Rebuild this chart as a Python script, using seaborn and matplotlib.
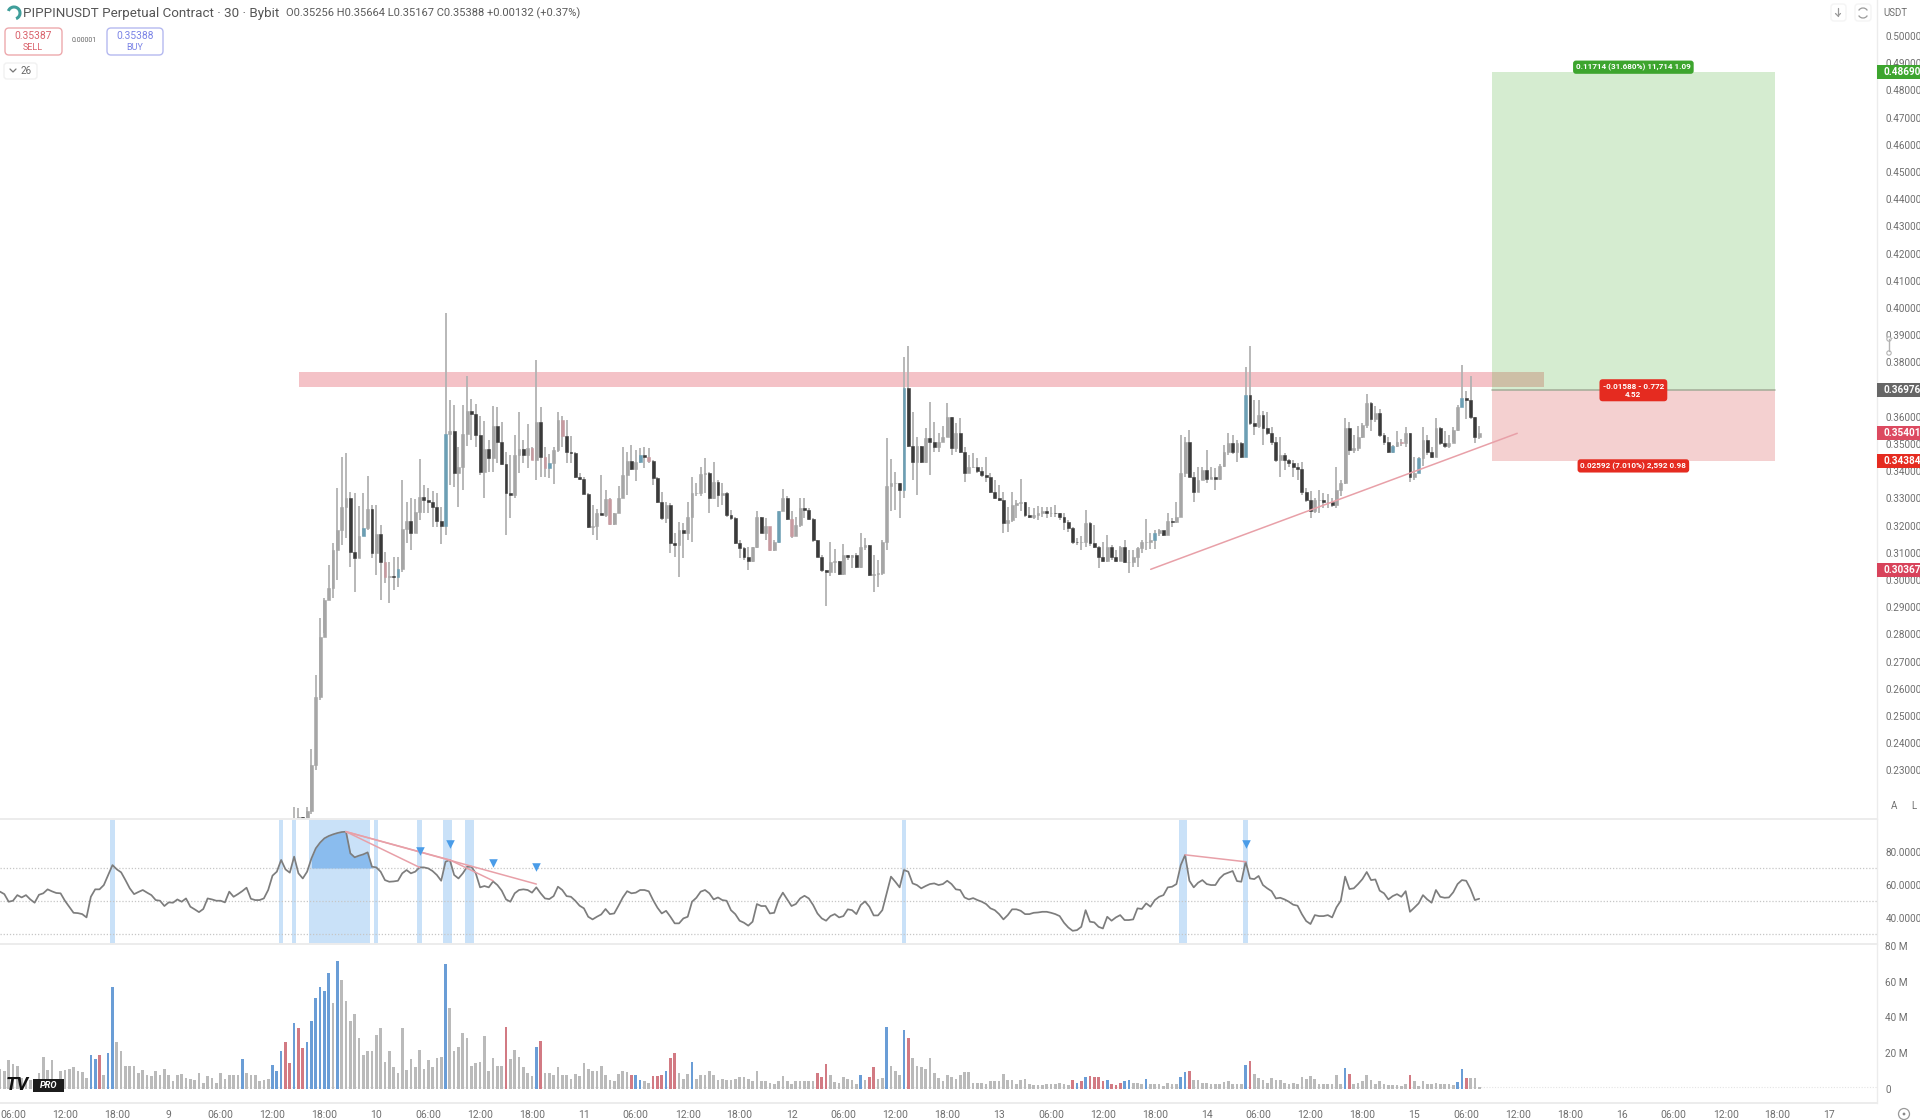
import numpy as np
import pandas as pd
import matplotlib
matplotlib.use("Agg")
import matplotlib.pyplot as plt
from matplotlib.patches import Rectangle, FancyBboxPatch, Circle, Arc
from matplotlib.transforms import blended_transform_factory
import seaborn as sns

# bars are counted in half hours from 06:00 on the 8th
first_bar = -3
first_candle = 65

volume = [
    11, 10, 16, 14, 13, 6, 5, 5, 4, 9, 18, 10.5,
    16, 5, 10, 10.5, 11, 12, 10, 9.5, 6, 19, 16.5, 19,
    8, 20, 57, 26, 21, 13, 13, 13, 9, 10.5, 7.5, 7,
    10, 8, 11, 7.5, 4.5, 8, 8.5, 6, 5.5, 5, 9, 3.5,
    7, 6, 3.5, 9, 5.5, 7.5, 8, 8, 16.5, 9, 8, 8,
    4.5, 5, 5.5, 13.5, 10, 21, 26, 14.5, 37, 34, 23, 26,
    38, 51, 57, 55, 65, 48, 71.5, 61, 49, 38, 42, 28.5,
    19, 21, 21, 30, 34, 15, 21, 12, 9, 34, 10.5, 16.5,
    12, 22, 11, 16, 12, 17.5, 18, 70, 45, 21, 23.5, 31,
    28.5, 13, 14.5, 15, 29.5, 10, 17.5, 13, 13, 34.5, 16.5, 21.5,
    18, 12, 9, 7, 23.5, 27, 9, 9, 8, 12, 7.5, 7.5,
    5.5, 8.5, 7, 14.5, 11, 10, 10, 13, 7.5, 5, 4.5, 8.5,
    10, 9.5, 8, 7.5, 5, 4.5, 3.5, 7, 7, 8, 10, 17.5,
    20, 9, 5.5, 8.5, 15, 5.5, 8, 8, 10, 8, 5, 5.5,
    5, 5, 5.5, 6.5, 6.5, 5.5, 4.5, 10, 4.5, 4.5, 3.5, 2.5,
    4.5, 7, 4.5, 3, 4.5, 4.5, 4.5, 4.5, 4.5, 9, 6.5, 14,
    7.5, 4, 3.5, 6.5, 5.5, 5, 2.5, 7.5, 5, 6.5, 12.5, 5.5,
    6, 34.5, 13, 10, 8, 33, 28.5, 17, 13, 12, 11, 17.5,
    9, 6, 4.5, 7.5, 6.5, 5.5, 7.5, 9.5, 9.5, 3.5, 3.5, 3.5,
    2.5, 4.5, 4.5, 4.5, 8.5, 5, 5, 3, 5, 5.5, 2.5, 2,
    2, 2.2, 2.5, 2.5, 3, 3.5, 2.5, 2.2, 5, 3.5, 4.5, 6.5,
    7, 6.5, 6.5, 4.5, 5, 3, 2, 3.5, 4.5, 5, 3.5, 3.5,
    2.5, 5.5, 2.5, 2.5, 2.5, 1.5, 3.5, 2.5, 2.5, 6.5, 9.5, 10,
    5, 5, 3.5, 3.5, 3, 3, 2.5, 4, 4.5, 3, 3, 3,
    13.5, 15.5, 8.5, 6, 5, 3.5, 6, 5, 5, 3.5, 2.5, 3.5,
    2.5, 6.5, 5.5, 7, 5.5, 3, 2.5, 2.5, 2.5, 7.5, 3, 11.5,
    8.5, 3, 3.5, 4.5, 7.5, 5, 2.5, 4.5, 3, 2, 2, 2,
    1.5, 2.5, 7.5, 4.5, 1.5, 4.5, 3, 2.5, 3.5, 2.5, 3, 2.5,
    2, 4, 11, 6, 6, 6, 1,
]
blue_bars = [18, 19, 22, 23, 53, 60, 61, 62, 65, 68, 69, 70, 71, 72, 73, 75, 100, 121, 144, 145,
             151, 157, 196, 202, 206, 246, 248, 253, 257, 258, 262, 270, 271, 285, 308, 334, 335]
red_bars = [20, 63, 64, 66, 67, 114, 122, 143, 148, 149, 150, 152, 153, 186, 187, 188, 198, 199, 207,
            245, 247, 249, 250, 251, 252, 254, 255, 256, 272, 286, 309, 323, 336]
blue_candles = [81, 89, 100, 124, 145, 177, 206, 264, 285, 319, 325, 335]
red_candles = [86, 120, 123, 127, 138, 147, 175, 180, 321]

rsi = [
    55.7, 54.2, 49.6, 50.2, 53.6, 52.2, 53.6, 51, 49, 53.8, 54.7, 57.1,
    55.9, 54.9, 54.7, 50.2, 46.6, 42.9, 42.7, 42.1, 40.1, 52.6, 57.1, 57.1,
    59.7, 65.8, 71.8, 69.2, 67.4, 62.7, 57.7, 54.2, 55.5, 56.7, 55.1, 53.6,
    50.6, 50.2, 47, 49.2, 49, 51, 49.6, 51.6, 46.6, 45, 43.3, 45.2,
    51.6, 51, 50.2, 50.2, 49.2, 55.7, 52.6, 54.2, 56, 58.1, 51.4, 50.6,
    50.6, 51.6, 56.7, 65.4, 67.8, 74.9, 69.2, 67.2, 76.9, 66.8, 63.7, 67.8,
    75.8, 81.9, 85.4, 88, 89.4, 90.4, 91.2, 91.8, 92, 78.9, 76.5, 77.5,
    78.3, 79.5, 70.8, 70.4, 67.8, 62.7, 61.7, 61.9, 62.3, 66.8, 68.8, 66.8,
    67.8, 70.4, 70.4, 69.8, 68.2, 65.8, 62.3, 73.8, 74.9, 65.8, 63.7, 66.8,
    70.8, 70.8, 66.8, 58.3, 59.1, 58.3, 61.9, 59.7, 56.3, 51, 49.6, 54.7,
    56.7, 57.1, 56.7, 55.1, 58.3, 54.7, 51.6, 51.2, 53, 58.7, 56.7, 53,
    52.6, 50.2, 47.2, 45.6, 40.5, 38.9, 40.5, 41.9, 45.2, 42.1, 42.5, 47.2,
    52.2, 56, 54.7, 55.1, 56.7,
    56.7, 55.9, 50.6, 46, 42.5, 44.1, 40.5,
    36.5, 36.5, 39.5, 40.5, 49.6, 52, 55.7, 56.7, 54.7, 51, 52.2, 50.6,
    50.2, 44.5, 42.1, 38.1, 36.9, 35.1, 37.5, 48.2, 47, 47, 42.5, 42.9,
    50.6, 55.1, 51, 47, 48.2, 51.6, 53.2, 51.6, 47.6, 42.5, 39.5, 38.1,
    40.9, 42.1, 40.1, 40.9, 45, 44.5, 42.1, 47.6, 49.8, 46.6, 41.3, 41.3,
    44.5, 54.7, 64.8, 61.7, 58.3, 68.8, 67.8, 60.7, 59.7, 57.7, 59.1, 60.3,
    60.7, 59.7, 60.3, 62.3, 60.3, 57.1, 56.7, 52.2, 51, 51.8, 50.6, 49.6,
    48.2, 45.6, 44.5, 42.1, 38.9, 41.5, 45, 45, 44.1, 42.1, 42.1, 42.9,
    43.1, 43.5, 43.5, 42.9, 42.1, 40.9, 36.9, 34, 32, 32.4, 34.4, 44.5,
    37.5, 37.1, 34.4, 33.4, 40.5, 38.1, 40.1, 41.5, 38.5, 38.5, 38.9, 45.6,
    45.2, 48.6, 46.6, 50.6, 52.6, 53.6, 58.3, 58.7, 60.3, 71.8, 77.9, 62.3,
    58.3, 61.1, 62.7, 60.3, 59.7, 59.7, 63.7, 66.2, 67.2, 68.2, 62.1, 61.7,
    73.8, 63.7, 63.3, 65.2, 59.7, 57.7, 56, 51.6,
    52, 51, 49.6, 47.8, 47.2, 42.1, 37.9, 36.1, 41.5, 40.9, 40.9, 41.5,
    40.1, 46.2, 50.2, 64.8, 57.3, 57.7, 60.3, 63.3, 67.6, 62.7, 63.1, 56.3,
    54.7, 51, 53, 54.2, 52.6, 56, 43.5, 46, 48.6, 53.6, 51, 49,
    56.7, 52.6, 52, 52.2, 55.3, 60.3, 62.7, 62.3, 57.3, 50.6, 51.4,
]

close = [
    .2125, .2130, .2100, .2150, .2320, .2570, .2790,
    .2927, .2970, .3111, .3184, .3267, .3300, .3102, .3080, .3163, .3190,
    .3260, .3098, .3169, .3067, .3010, .3015, .3012, .3042, .3186, .3216,
    .3172, .3251, .3304, .3294, .3287, .3270, .3218, .3199, .3535, .3549,
    .3392, .3417, .3535, .3621, .3610, .3533, .3398, .3481, .3447, .3566,
    .3508, .3426, .3321, .3312, .3459, .3480, .3459, .3486, .3443, .3582,
    .3453, .3410, .3431, .3478, .3590, .3529, .3472, .3468, .3380, .3370,
    .3318, .3196, .3198, .3245, .3239, .3297, .3206, .3245, .3300, .3386,
    .3439, .3407, .3435, .3459, .3451, .3439, .3376, .3288, .3227, .3276,
    .3137, .3129, .3184,
    .3172, .3233, .3319, .3319, .3390, .3392, .3300, .3362, .3313, .3319,
    .3239, .3227, .3135, .3117, .3084, .3071, .3120, .3233, .3172, .3199,
    .3111, .3141, .3255, .3300, .3223, .3160, .3203, .3264, .3258, .3225,
    .3147, .3086, .3035, .3031, .3068, .3071, .3022, .3092, .3086, .3092,
    .3047, .3123, .3129, .3019, .3022, .3025, .3138, .3346, .3356, .3356,
    .3331, .3707, .3493, .3432, .3493, .3432, .3521, .3509, .3490, .3509,
    .3527, .3601, .3484, .3539, .3472, .3395, .3417, .3417, .3402, .3386,
    .3380, .3325, .3300, .3294, .3209, .3221, .3276, .3282, .3285, .3239,
    .3233, .3239, .3245, .3252, .3248, .3248, .3245, .3233, .3215, .3190,
    .3141, .3139,
    .3141, .3209, .3135, .3123, .3084, .3071, .3123, .3086, .3071, .3120,
    .3068, .3068, .3086, .3117, .3141, .3141, .3147, .3172, .3182, .3166,
    .3218, .3215, .3233, .3395, .3509, .3380, .3325, .3366, .3405, .3370,
    .3380, .3370, .3419, .3472, .3503, .3472, .3503, .3451, .3680, .3576,
    .3566, .3607, .3558, .3539, .3509, .3441, .3460, .3441, .3429, .3417,
    .3407, .3325, .3294, .3252, .3294, .3294, .3288, .3288, .3276, .3331,
    .3358, .3558, .3478, .3484, .3527, .3570, .3652, .3591, .3613, .3533,
    .3509, .3472, .3493, .3509, .3503, .3539, .3380, .3392, .3448, .3515,
    .3472, .3454, .3558, .3503, .3493, .3505, .3552, .3637, .3668, .3662,
    .3601, .35256, .35388,
]
high = [
    .2165, .2160, .2130, .2165, .2380, .2650, .2860,
    .2933, .3055, .3135, .3337, .3451, .3468, .3325, .3321, .3272, .3321,
    .3383, .3276, .3276, .3202, .3104, .3067, .3083, .3086, .3367, .3285,
    .3303, .3296, .3445, .3349, .3337, .3328, .3319, .3270, .3980, .3662,
    .3643, .3490, .3643, .3750, .3664, .3647, .3603, .3584, .3515, .3639,
    .3637, .3582, .3472, .3459, .3533, .3619, .3515, .3572, .3490, .3809,
    .3635, .3490, .3465, .3490, .3619, .3603, .3588, .3529, .3472, .3392,
    .3377, .3321, .3276, .3260, .3386, .3331, .3300, .3245, .3345, .3490,
    .3472, .3496, .3478, .3484, .3488, .3484, .3443, .3380, .3325, .3288,
    .3282, .3172, .3214,
    .3209, .3288, .3380, .3356, .3417, .3448, .3398, .3435, .3368, .3356,
    .3325, .3258, .3233, .3147, .3123, .3123, .3123, .3252, .3233, .3227,
    .3196, .3147, .3255, .3334, .3307, .3252, .3233, .3300, .3300, .3264,
    .3227, .3147, .3092, .3037, .3138, .3113, .3071, .3133, .3092, .3092,
    .3098, .3174, .3153, .3129, .3092, .3074, .3147, .3521, .3444, .3398,
    .3356, .3821, .3860, .3619, .3527, .3493, .3558, .3656, .3582, .3539,
    .3566, .3650, .3601, .3576, .3594, .3490, .3460, .3466, .3448, .3417,
    .3451, .3392, .3368, .3350, .3325, .3270, .3325, .3294, .3370, .3288,
    .3270, .3264, .3272, .3270, .3270, .3268, .3276, .3248, .3245, .3221,
    .3196, .3153,
    .3160, .3258, .3215, .3203, .3125, .3141, .3166, .3129, .3111, .3125,
    .3147, .3111, .3111, .3123, .3147, .3223, .3172, .3182, .3187, .3172,
    .3248, .3227, .3285, .3533, .3527, .3552, .3398, .3417, .3417, .3478,
    .3417, .3411, .3427, .3497, .3542, .3533, .3515, .3509, .3782, .3860,
    .3662, .3662, .3623, .3619, .3564, .3527, .3527, .3466, .3444, .3441,
    .3429, .3435, .3337, .3329, .3300, .3331, .3319, .3316, .3300, .3414,
    .3368, .3594, .3582, .3533, .3566, .3578, .3684, .3656, .3640, .3628,
    .3539, .3525, .3497, .3546, .3517, .3562, .3542, .3454, .3454, .3564,
    .3533, .3490, .3594, .3564, .3546, .3533, .3564, .3644, .3791, .3696,
    .3750, .3601, .35664,
]
low = [
    .2100, .2100, .2060, .2090, .2140, .2300, .2560,
    .2804, .2927, .2933, .3000, .3129, .3153, .3049, .2957, .3080, .3162,
    .3184, .3080, .3018, .2927, .2988, .2914, .2963, .2976, .3031, .3135,
    .3110, .3172, .3221, .3245, .3245, .3196, .3196, .3132, .3165, .3349,
    .3343, .3267, .3331, .3492, .3515, .3490, .3386, .3300, .3398, .3398,
    .3429, .3423, .3165, .3227, .3300, .3392, .3429, .3410, .3441, .3367,
    .3380, .3380, .3374, .3353, .3472, .3490, .3431, .3429, .3374, .3367,
    .3316, .3190, .3165, .3147, .3239, .3233, .3202, .3202, .3245, .3300,
    .3312, .3404, .3365, .3429, .3410, .3429, .3349, .3282, .3220, .3208,
    .3098, .3086, .3012,
    .3080, .3147, .3138, .3307, .3307, .3319, .3245, .3298, .3270, .3276,
    .3233, .3221, .3133, .3080, .3074, .3037, .3068, .3117, .3172, .3147,
    .3105, .3105, .3135, .3252, .3221, .3153, .3160, .3196, .3227, .3221,
    .3141, .3084, .3031, .2905, .3013, .3025, .3019, .3019, .3074, .3043,
    .3043, .3043, .3111, .3015, .2957, .2976, .3019, .3111, .3252, .3258,
    .3227, .3300, .3490, .3368, .3313, .3429, .3429, .3386, .3472, .3472,
    .3509, .3527, .3460, .3472, .3466, .3362, .3392, .3411, .3392, .3380,
    .3362, .3321, .3297, .3292, .3172, .3178, .3215, .3227, .3252, .3233,
    .3227, .3223, .3221, .3231, .3227, .3233, .3231, .3221, .3182, .3178,
    .3133, .3129,
    .3111, .3123, .3125, .3117, .3043, .3068, .3068, .3074, .3068, .3071,
    .3064, .3027, .3047, .3047, .3101, .3111, .3113, .3113, .3160, .3160,
    .3172, .3196, .3211, .3233, .3380, .3378, .3288, .3325, .3368, .3356,
    .3370, .3331, .3368, .3417, .3460, .3463, .3432, .3448, .3451, .3570,
    .3533, .3558, .3497, .3533, .3497, .3435, .3380, .3405, .3417, .3380,
    .3368, .3313, .3288, .3227, .3245, .3248, .3264, .3264, .3270, .3264,
    .3307, .3353, .3460, .3466, .3476, .3521, .3558, .3546, .3582, .3527,
    .3497, .3466, .3466, .3490, .3493, .3490, .3362, .3366, .3402, .3419,
    .3460, .3448, .3454, .3497, .3484, .3484, .3509, .3546, .3635, .3591,
    .3591, .3505, .35167,
]

# RSI pane highlights and divergences
highlight_from = [23, 62, 65, 69, 84, 94, 100, 105, 206, 270, 285]
highlight_to = [23, 62, 65, 82, 84, 94, 101, 106, 206, 271, 285]
div_x0 = [77, 77, 77, 101, 271]
div_y0 = [92, 92, 92, 74.9, 78]
div_x1 = [94, 121, 101, 111, 285]
div_y1 = [70.4, 60.3, 74.9, 62.3, 73.8]
signal_x = [94.2, 101, 111, 121, 285]
signal_y = [80.5, 84.5, 72.8, 70.4, 84.3]

# drawings on the price pane
zone_from, zone_to, zone_low, zone_high = 66.2, 354, 0.37107, 0.37658
trend_x = [263.05, 347.8]
trend_y = [0.30393, 0.35393]
pos_from, pos_to = 342, 407.3
pos_target, pos_entry, pos_stop = 0.4869, 0.36976, 0.34384

price_ticks = [round(0.23 + 0.01 * k, 2) for k in range(28)]
rsi_ticks = [40, 60, 80]
rsi_bands = [30, 50, 70]
vol_ticks = [0, 20, 40, 60, 80]
vol_tick_labels = ["0", "20 M", "40 M", "60 M", "80 M"]
time_ticks = [0, 12, 24, 36, 48, 60, 72, 84, 96, 108, 120, 132, 144, 156, 168, 180, 192, 204, 216,
              228, 240, 252, 264, 276, 288, 300, 312, 324, 336, 348, 360, 372, 384, 396, 408, 420]
time_labels = ["06:00", "12:00", "18:00", "9", "06:00", "12:00", "18:00", "10", "06:00", "12:00", "18:00", "11",
               "06:00", "12:00", "18:00", "12", "06:00", "12:00", "18:00", "13", "06:00", "12:00", "18:00", "14",
               "06:00", "12:00", "18:00", "15", "06:00", "12:00", "18:00", "16", "06:00", "12:00", "18:00", "17"]
tag_prices = [0.4869, 0.36976, 0.35401, 0.34384, 0.30367]
tag_texts = ["0.48690", "0.36976", "0.35401", "0.34384", "0.30367"]
tag_colors = ["#3da52e", "#666666", "#dc4a60", "#e52b20", "#d8435b"]

bars = pd.DataFrame({"bar": np.arange(first_bar, first_bar + len(volume)), "volume": volume, "rsi": rsi})
bars["kind"] = "plain"
bars.loc[bars["bar"].isin(blue_bars), "kind"] = "blue"
bars.loc[bars["bar"].isin(red_bars), "kind"] = "red"

candles = pd.DataFrame({"bar": np.arange(first_candle, first_candle + len(close)),
                        "close": close, "high": high, "low": low})
candles["open"] = candles["close"].shift(1).fillna(0.2100)
candles["kind"] = np.where(candles["close"] >= candles["open"], "up", "down")
candles.loc[candles["bar"].isin(blue_candles), "kind"] = "blue"
candles.loc[candles["bar"].isin(red_candles), "kind"] = "red"

sns.set_theme(style="white")
plt.rcParams["font.family"] = ["Roboto", "DejaVu Sans"]
TXT = "#6f6f6f"
SEP = "#ececec"

W, H = 1920, 1120
fig = plt.figure(figsize=(W / 100, H / 100), dpi=100, facecolor="white")


def pane(top, bottom):
    return fig.add_axes([0, 1 - bottom / H, 1877 / W, (bottom - top) / H])


ax_price = pane(0, 819)
ax_rsi = pane(819, 944)
ax_vol = pane(944, 1103)
x_limits = (-3.006, 430.98)

# price pane
ax_price.add_patch(Rectangle((zone_from, zone_low), zone_to - zone_from, zone_high - zone_low,
                             color="#f4c2c7", lw=0, zorder=1))
ax_price.add_patch(Rectangle((pos_from, pos_entry), pos_to - pos_from, pos_target - pos_entry,
                             color="#5bb746", alpha=0.25, lw=0, zorder=2))
ax_price.add_patch(Rectangle((pos_from, pos_stop), pos_to - pos_from, pos_entry - pos_stop,
                             color="#d74444", alpha=0.25, lw=0, zorder=2))
ax_price.plot([pos_from, pos_to], [pos_entry, pos_entry], color="#a3ab97", lw=1.1, zorder=2.5)

body_colors = {"up": "#a6a6a6", "down": "#3a3a3a", "blue": "#6c9fb4", "red": "#c79aa0"}
ax_price.vlines(candles["bar"], candles["low"], candles["high"], colors="#b2b2b2", lw=1.3, zorder=3)
ax_price.bar(candles["bar"], (candles["close"] - candles["open"]).abs(),
             bottom=candles[["open", "close"]].min(axis=1), width=0.66,
             color=candles["kind"].map(body_colors), edgecolor=candles["kind"].map(body_colors),
             lw=0.4, zorder=3.2)
sns.lineplot(x=trend_x, y=trend_y, color="#e8a0a8", lw=1.1, ax=ax_price, zorder=4)

ax_price.set_ylim(0.21213, 0.51324)
ax_price.yaxis.tick_right()
ax_price.set_yticks(price_ticks, [f"{p:.5f}" for p in price_ticks])

# tool labels
pos_mid = (pos_from + pos_to) / 2
ax_price.annotate("0.11714 (31.680%) 11,714 1.09", (pos_mid, pos_target), xytext=(0, 0.5),
                  textcoords="offset points", ha="center", va="bottom", color="white", fontsize=5.9,
                  fontweight="bold", zorder=6,
                  bbox=dict(boxstyle="round,pad=0.35", fc="#3da52e", ec="none"))
ax_price.text(pos_mid, pos_entry, "-0.01588 - 0.772\n4.52", ha="center", va="center", color="white",
              fontsize=5.9, fontweight="bold", linespacing=1.25, zorder=6,
              bbox=dict(boxstyle="round,pad=0.4", fc="#e52b20", ec="none"))
ax_price.annotate("0.02592 (7.010%) 2,592 0.98", (pos_mid, pos_stop), xytext=(0, -1),
                  textcoords="offset points", ha="center", va="top", color="white", fontsize=5.9,
                  fontweight="bold", zorder=6,
                  bbox=dict(boxstyle="round,pad=0.35", fc="#e52b20", ec="none"))

# price tags on the axis
tag_tf = blended_transform_factory(ax_price.transAxes, ax_price.transData)
tag_h = 14 / 2720
for p, t, c in zip(tag_prices, tag_texts, tag_colors):
    ax_price.add_patch(Rectangle((1.0, p - tag_h / 2), 43 / 1877, tag_h, transform=tag_tf, color=c,
                                 lw=0, clip_on=False, zorder=8))
    ax_price.text(1 + 6 / 1877, p, t, transform=tag_tf, color="white", fontsize=7.2, fontweight="bold",
                  va="center", ha="left", clip_on=False, zorder=9)

# RSI pane
for s, e in zip(highlight_from, highlight_to):
    ax_rsi.axvspan(s - 0.5, e + 0.5, color="#c9e1f8", lw=0, zorder=0.5)
for b in rsi_bands:
    ax_rsi.axhline(b, color="#c6c6c6", lw=0.9, ls=(0, (1, 1.5)), zorder=1)
fill_bars = bars[(bars["bar"] >= 69) & (bars["bar"] <= 83)]
ax_rsi.fill_between(fill_bars["bar"], 70, fill_bars["rsi"], where=fill_bars["rsi"] > 70, interpolate=True,
                    color="#8abcee", lw=0, zorder=1.5)
sns.lineplot(data=bars, x="bar", y="rsi", color="#7d7d7d", lw=1.25, ax=ax_rsi, zorder=3, errorbar=None)
for x0, y0, x1, y1 in zip(div_x0, div_y0, div_x1, div_y1):
    ax_rsi.plot([x0, x1], [y0, y1], color="#e8a0a8", lw=1.1, zorder=3.5)
sns.scatterplot(x=signal_x, y=signal_y, marker="v", s=38, color="#4a9ce8", lw=0, ax=ax_rsi, zorder=4)
ax_rsi.set_ylim(24, 99.7)
ax_rsi.yaxis.tick_right()
ax_rsi.set_yticks(rsi_ticks, [f"{v:.4f}" for v in rsi_ticks])

# volume pane
ax_vol.axhline(1.3, color="#e4e4e4", lw=0.8, ls=(0, (1, 1.5)), zorder=0)
sns.barplot(data=bars, x="bar", y="volume", hue="kind", dodge=False, native_scale=True, width=0.62,
            palette={"plain": "#bababa", "blue": "#6a9dd6", "red": "#d27a83"}, saturation=1,
            errorbar=None, legend=False, linewidth=0, ax=ax_vol, zorder=2)
ax_vol.set_ylim(-7.9, 81)
ax_vol.yaxis.tick_right()
ax_vol.set_yticks(vol_ticks, vol_tick_labels)

for ax in (ax_price, ax_rsi, ax_vol):
    ax.set_xlim(*x_limits)
    ax.set_xlabel("")
    ax.set_ylabel("")
    ax.grid(False)
    ax.tick_params(axis="y", length=0, pad=6, labelsize=7.2, labelcolor=TXT)
    for side in ("left", "top", "bottom"):
        ax.spines[side].set_visible(False)
    ax.spines["right"].set_color(SEP)
    ax.spines["right"].set_linewidth(1)
for ax in (ax_rsi, ax_vol):
    ax.spines["top"].set_visible(True)
    ax.spines["top"].set_color(SEP)
    ax.spines["top"].set_linewidth(1.4)
ax_vol.spines["bottom"].set_visible(True)
ax_vol.spines["bottom"].set_color(SEP)
ax_vol.spines["bottom"].set_linewidth(1.4)
ax_price.set_xticks([])
ax_rsi.set_xticks([])
ax_vol.set_xticks(time_ticks, time_labels)
ax_vol.tick_params(axis="x", length=0, pad=5, labelsize=7.5, labelcolor=TXT)

# chart chrome, placed in screen pixels
ov = fig.add_axes([0, 0, 1, 1], facecolor="none", zorder=20)
ov.set_xlim(0, W)
ov.set_ylim(H, 0)
ov.axis("off")

ov.add_patch(Arc((14, 13), 12, 12, theta1=200, theta2=70, color="#3f9e9a", lw=2.2))
ov.text(23, 13, "PIPPINUSDT Perpetual Contract · 30 · Bybit", fontsize=9.6, color="#555555", va="center")
ov.text(286, 13, "O0.35256 H0.35664 L0.35167 C0.35388 +0.00132 (+0.37%)", fontsize=8, color="#5a5a5a",
        va="center")
ov.add_patch(FancyBboxPatch((5, 28), 57, 27, boxstyle="round,pad=0,rounding_size=4", fc="white",
                            ec="#eda9ad", lw=1))
ov.add_patch(FancyBboxPatch((107, 28), 56, 27, boxstyle="round,pad=0,rounding_size=4", fc="white",
                            ec="#b5b9f0", lw=1))
ov.text(33, 36, "0.35387", fontsize=7.4, color="#d9616b", ha="center", va="center")
ov.text(33, 47, "SELL", fontsize=6.5, color="#d9616b", ha="center", va="center")
ov.text(135, 36, "0.35388", fontsize=7.4, color="#7a83e6", ha="center", va="center")
ov.text(135, 47, "BUY", fontsize=6.5, color="#7a83e6", ha="center", va="center")
ov.text(84, 41, "0.00001", fontsize=5, color="#666666", ha="center", va="center")
ov.add_patch(FancyBboxPatch((4, 63), 33, 16, boxstyle="round,pad=0,rounding_size=3", fc="white",
                            ec="#f1f1f1", lw=1))
ov.plot([10, 13, 16], [69, 72, 69], color="#777777", lw=0.9)
ov.text(26, 71, "26", fontsize=7, color="#666666", ha="center", va="center")

ov.add_patch(FancyBboxPatch((1831, 4), 15, 17, boxstyle="round,pad=0,rounding_size=3", fc="white",
                            ec="#f4f4f4", lw=1))
ov.add_patch(FancyBboxPatch((1855, 4), 16, 17, boxstyle="round,pad=0,rounding_size=3", fc="white",
                            ec="#f4f4f4", lw=1))
ov.plot([1838, 1838], [8, 16], color="#999999", lw=0.9)
ov.plot([1835.5, 1838, 1840.5], [13.5, 16, 13.5], color="#999999", lw=0.9)
ov.add_patch(Arc((1863, 13), 10, 10, theta1=30, theta2=150, color="#999999", lw=0.9))
ov.add_patch(Arc((1863, 13), 10, 10, theta1=210, theta2=330, color="#999999", lw=0.9))
ov.text(1883, 13.5, "USDT", fontsize=6.9, color=TXT, va="center")
ov.text(1894, 806, "A", fontsize=7, color=TXT, ha="center", va="center")
ov.text(1914, 806, "L", fontsize=7, color=TXT, ha="center", va="center")
ov.plot([1889, 1889], [339, 351], color="#b3b3b3", lw=1)
ov.add_patch(Circle((1889, 339), 2.2, fc="white", ec="#b3b3b3", lw=0.8))
ov.add_patch(Circle((1889, 353), 2.2, fc="white", ec="#b3b3b3", lw=0.8))
ov.add_patch(Circle((1904, 1114), 5.5, fc="white", ec="#999999", lw=0.9))
ov.add_patch(Circle((1904, 1114), 1.4, fc="#888888", ec="none"))

ov.text(6, 1085, "TV", fontsize=13.5, fontweight="bold", fontstyle="italic", color="#111111", va="center")
ov.add_patch(Rectangle((33, 1079), 31, 13, fc="#1c1c1c", ec="none"))
ov.text(48.5, 1085.5, "PRO", fontsize=6.6, fontweight="bold", fontstyle="italic", color="white",
        ha="center", va="center")

fig.savefig("out.png", dpi=100)
